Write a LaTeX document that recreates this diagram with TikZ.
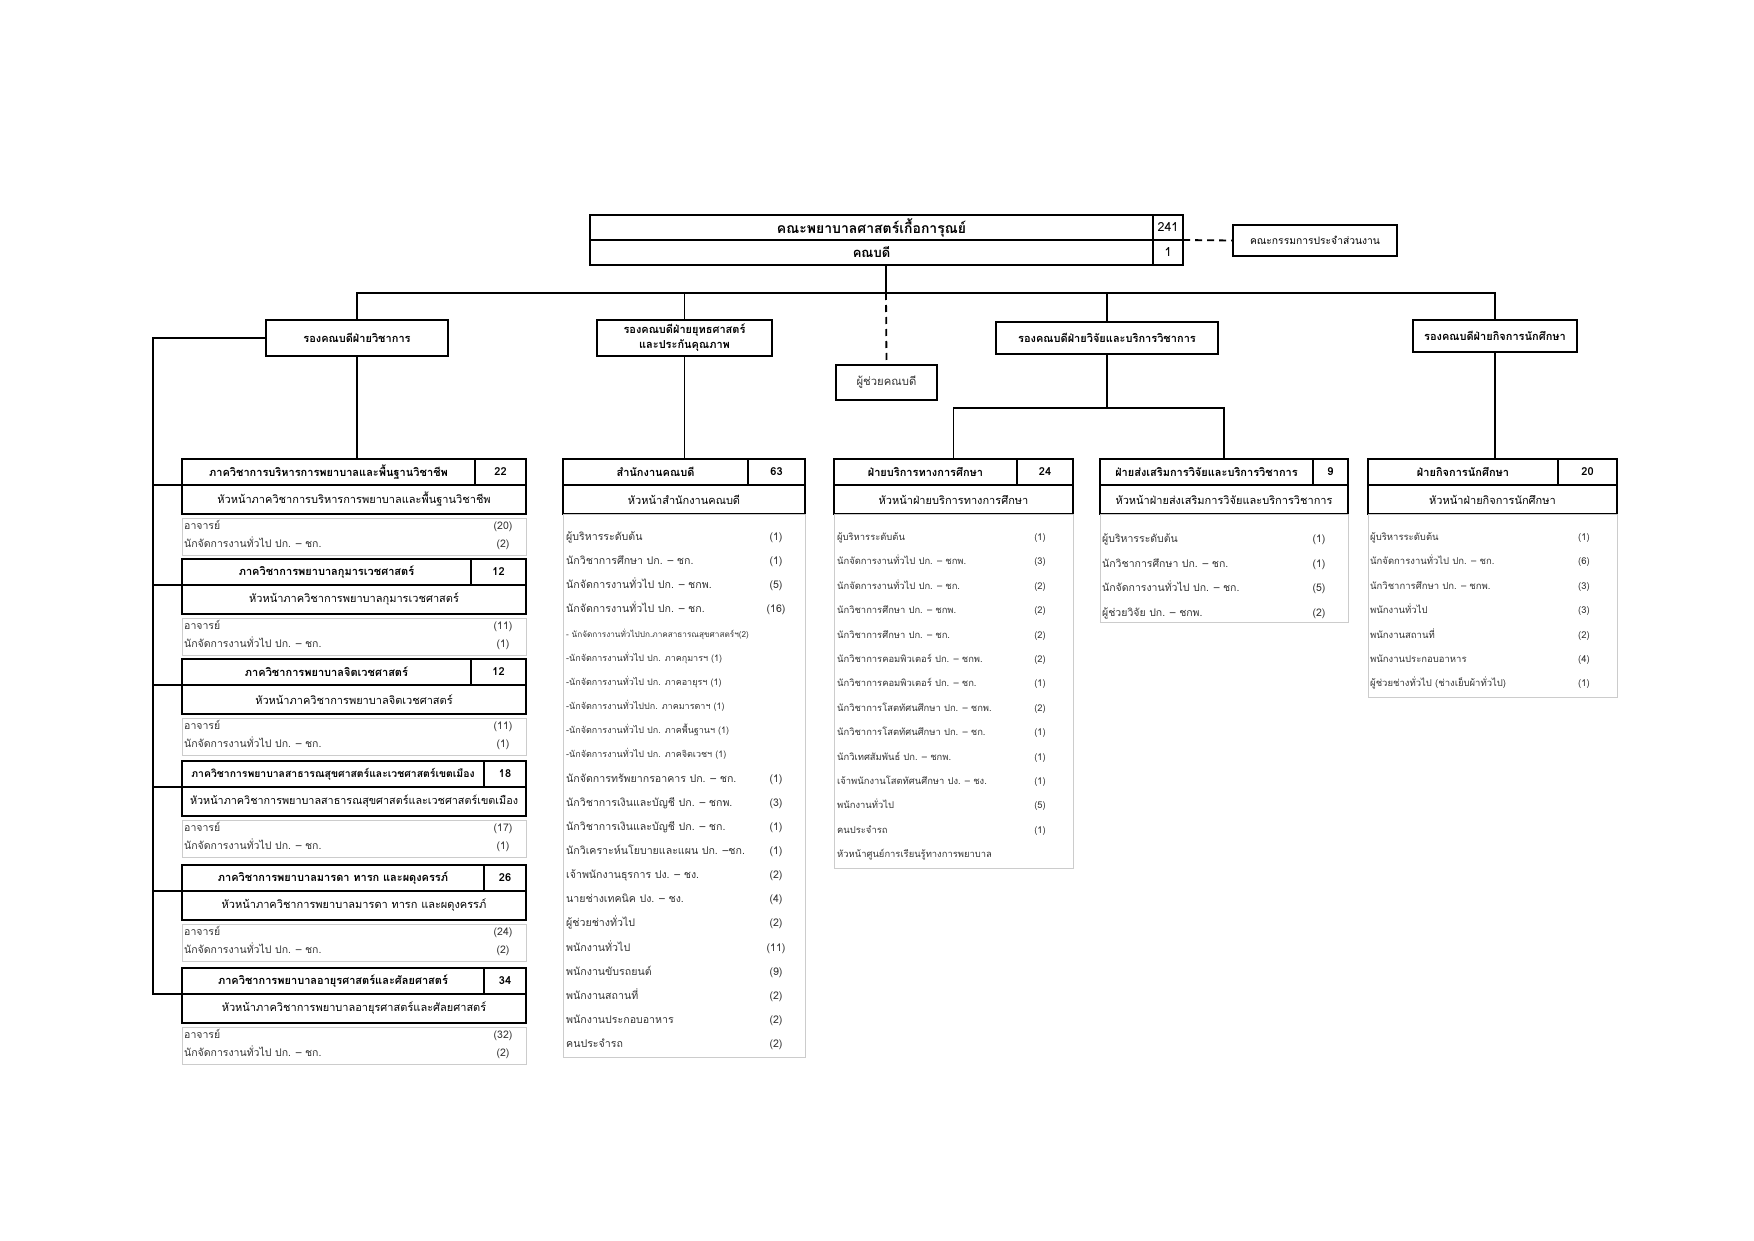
\documentclass[tikz,border=0pt]{standalone}
\usepackage{fontspec}
\setmainfont[Script=Thai]{Loma}
\usetikzlibrary{calc}
\definecolor{rule}{gray}{0.8}
\definecolor{ink}{gray}{0.2}
\tikzset{
  tp/.style={draw, line width=1.6pt, inner sep=0pt, outer sep=0pt, minimum height=25, font=\fontsize{12.5}{13}\selectfont},
  hd/.style={draw, line width=1.8pt, inner sep=0pt, outer sep=0pt, minimum height=26, font=\bfseries\fontsize{11}{12}\selectfont},
  sb/.style={draw, line width=1.8pt, inner sep=0pt, outer sep=0pt, minimum height=29, font=\fontsize{11}{12}\selectfont},
  vp/.style={draw, line width=1.6pt, inner sep=0pt, outer sep=0pt, align=center, font=\bfseries\fontsize{11}{15}\selectfont},
  lst/.style={draw=rule, line width=1pt, inner sep=0pt, outer sep=0pt, anchor=north west},
  lt/.style={inner sep=0pt, text=ink, text height=7pt, text depth=2pt, font=\fontsize{#1}{12}\selectfont},
  il/.style={lt=10.5, anchor=west},
  im/.style={lt=10.6, anchor=west},
  sa/.style={lt=8.2, anchor=west},
  sx/.style={lt=9, anchor=west},
  ie/.style={lt=9.4, anchor=west},
  ir/.style={lt=10.5, anchor=west},
  is/.style={lt=9.5, anchor=west},
  ln/.style={line width=1.8pt},
  dl/.style={line width=1.8pt, dash pattern=on 7pt off 5pt}
}
% name, left, top, divider, right, title, count, head
\newcommand{\dept}[8]{
  \node[hd, anchor=north west, minimum width={#4-#2}] (#1) at (#2,#3) {#6};
  \node[hd, anchor=north west, minimum width={#5-#4}] (#1n) at (#4,#3) {#7};
  \node[sb, anchor=north west, minimum width={#5-#2}] (#1h) at (#1.south west) {#8};
  \coordinate (#1t) at ({(#2+#5)/2},#3);
}

\begin{document}
\begin{tikzpicture}[x=1pt,y=-1pt]
  \useasboundingbox (0,0) rectangle (1754,1241);

  \node[tp, minimum width=563, font=\bfseries\fontsize{14}{15}\selectfont] (fac) at (871.5,227.5) {คณะพยาบาลศาสตร์เกื้อการุณย์};
  \node[tp, minimum width=30] (facn) at (1168,227.5) {241};
  \node[tp, minimum width=563, font=\bfseries\fontsize{13}{15}\selectfont] (dean) at (871.5,252.5) {คณบดี};
  \node[tp, minimum width=30] (deann) at (1168,252.5) {1};
  \node[vp, minimum width=164, minimum height=31, font=\fontsize{10.3}{12}\selectfont] (comm) at (1315,240.5) {คณะกรรมการประจำส่วนงาน};

  \node[vp, minimum width=182, minimum height=36] (vacad) at (357,338) {รองคณบดีฝ่ายวิชาการ};
  \node[vp, minimum width=175, minimum height=36] (vsd) at (684.5,338) {รองคณบดีฝ่ายยุทธศาสตร์\\และประกันคุณภาพ};
  \node[vp, minimum width=101, minimum height=35, font=\fontsize{11.3}{12}\selectfont, text=ink] (asst) at (886.5,382.5) {ผู้ช่วยคณบดี};
  \node[vp, minimum width=222, minimum height=32] (vres) at (1107,338) {รองคณบดีฝ่ายวิจัยและบริการวิชาการ};
  \node[vp, minimum width=164, minimum height=32] (vstu) at (1495,336) {รองคณบดีฝ่ายกิจการนักศึกษา};

  \dept{d1}{182}{459}{475}{526}{ภาควิชาการบริหารการพยาบาลและพื้นฐานวิชาชีพ}{22}{หัวหน้าภาควิชาการบริหารการพยาบาลและพื้นฐานวิชาชีพ}
  \dept{d2}{182}{559}{471}{526}{ภาควิชาการพยาบาลกุมารเวชศาสตร์}{12}{หัวหน้าภาควิชาการพยาบาลกุมารเวชศาสตร์}
  \dept{d3}{182}{659}{471}{526}{ภาควิชาการพยาบาลจิตเวชศาสตร์}{12}{หัวหน้าภาควิชาการพยาบาลจิตเวชศาสตร์}
  \dept{d4}{182}{761}{484}{526}{\fontsize{10.4}{12}\selectfont ภาควิชาการพยาบาลสาธารณสุขศาสตร์และเวชศาสตร์เขตเมือง}{18}{\fontsize{10.8}{12}\selectfont หัวหน้าภาควิชาการพยาบาลสาธารณสุขศาสตร์และเวชศาสตร์เขตเมือง}
  \dept{d5}{182}{865}{484}{526}{ภาควิชาการพยาบาลมารดา ทารก และผดุงครรภ์}{26}{หัวหน้าภาควิชาการพยาบาลมารดา ทารก และผดุงครรภ์}
  \dept{d6}{182}{968}{484}{526}{ภาควิชาการพยาบาลอายุรศาสตร์และศัลยศาสตร์}{34}{หัวหน้าภาควิชาการพยาบาลอายุรศาสตร์และศัลยศาสตร์}

  \foreach \k/\y/\a/\c in {1/459/(20)/(2), 2/559/(11)/(1), 3/659/(11)/(1), 4/761/(17)/(1), 5/865/(24)/(2), 6/968/(32)/(2)} {
    \node[lst, minimum width=344, minimum height=37] (l\k) at (182,\y+59) {};
    \node[il] (a\k) at (184,\y+68) {อาจารย์};
    \node[lt=10.5] (an\k) at (503,\y+68) {\a};
    \node[il] (b\k) at (184,\y+86) {นักจัดการงานทั่วไป ปก. – ชก.};
    \node[lt=10.5] (bn\k) at (503,\y+86) {\c};
  }

  \dept{off}{563}{459}{748}{805}{สำนักงานคณบดี}{63}{หัวหน้าสำนักงานคณบดี}
  \dept{edu}{834}{459}{1017}{1073}{ฝ่ายบริการทางการศึกษา}{24}{หัวหน้าฝ่ายบริการทางการศึกษา}
  \dept{rsc}{1100}{459}{1313}{1348}{ฝ่ายส่งเสริมการวิจัยและบริการวิชาการ}{9}{หัวหน้าฝ่ายส่งเสริมการวิจัยและบริการวิชาการ}
  \dept{stu}{1368}{459}{1558}{1617}{ฝ่ายกิจการนักศึกษา}{20}{หัวหน้าฝ่ายกิจการนักศึกษา}

  \node[lst, minimum width=242, minimum height=543] (offl) at (563,514) {};
  \node[lst, minimum width=239, minimum height=354] (edul) at (834,514) {};
  \node[lst, minimum width=248, minimum height=108] (rscl) at (1100,514) {};
  \node[lst, minimum width=249, minimum height=183] (stul) at (1368,514) {};

  \foreach \s/\t/\n [count=\i] in {im/ผู้บริหารระดับต้น/(1), im/นักวิชาการศึกษา ปก. – ชก./(1), im/นักจัดการงานทั่วไป ปก. – ชกพ./(5), im/นักจัดการงานทั่วไป ปก. – ชก./(16), sa/- นักจัดการงานทั่วไปปก.ภาคสาธารณสุขศาสตร์ฯ(2)/{}, sx/-นักจัดการงานทั่วไป ปก. ภาคกุมารฯ (1)/{}, sx/-นักจัดการงานทั่วไป ปก. ภาคอายุรฯ (1)/{}, sx/-นักจัดการงานทั่วไปปก. ภาคมารดาฯ (1)/{}, sx/-นักจัดการงานทั่วไป ปก. ภาคพื้นฐานฯ (1)/{}, sx/-นักจัดการงานทั่วไป ปก. ภาคจิตเวชฯ (1)/{}, im/นักจัดการทรัพยากรอาคาร ปก. – ชก./(1), im/นักวิชาการเงินและบัญชี ปก. – ชกพ./(3), im/นักวิชาการเงินและบัญชี ปก. – ชก./(1), im/นักวิเคราะห์นโยบายและแผน ปก. –ชก./(1), im/เจ้าพนักงานธุรการ ปง. – ชง./(2), im/นายช่างเทคนิค ปง. – ชง./(4), im/ผู้ช่วยช่างทั่วไป/(2), im/พนักงานทั่วไป/(11), im/พนักงานขับรถยนต์/(9), im/พนักงานสถานที่/(2), im/พนักงานประกอบอาหาร/(2), im/คนประจำรถ/(2)} {
    \node[\s] (o\i) at (566,{538+24.15*(\i-1)}) {\t};
    \node[lt=10.6] (on\i) at (776,{538+24.15*(\i-1)}) {\n};
  }
  \foreach \t/\n [count=\i] in {ผู้บริหารระดับต้น/(1), นักจัดการงานทั่วไป ปก. – ชกพ./(3), นักจัดการงานทั่วไป ปก. – ชก./(2), นักวิชาการศึกษา ปก. – ชกพ./(2), นักวิชาการศึกษา ปก. – ชก./(2), นักวิชาการคอมพิวเตอร์ ปก. – ชกพ./(2), นักวิชาการคอมพิวเตอร์ ปก. – ชก./(1), นักวิชาการโสตทัศนศึกษา ปก. – ชกพ./(2), นักวิชาการโสตทัศนศึกษา ปก. – ชก./(1), นักวิเทศสัมพันธ์ ปก. – ชกพ./(1), เจ้าพนักงานโสตทัศนศึกษา ปง. – ชง./(1), พนักงานทั่วไป/(5), คนประจำรถ/(1), หัวหน้าศูนย์การเรียนรู้ทางการพยาบาล/{}} {
    \node[ie] (e\i) at (837,{538+24.4*(\i-1)}) {\t};
    \node[lt=9.4] (en\i) at (1040,{538+24.4*(\i-1)}) {\n};
  }
  \foreach \t/\n [count=\i] in {ผู้บริหารระดับต้น/(1), นักวิชาการศึกษา ปก. – ชก./(1), นักจัดการงานทั่วไป ปก. – ชก./(5), ผู้ช่วยวิจัย ปก. – ชกพ./(2)} {
    \node[ir] (r\i) at (1102,{540+24.6*(\i-1)}) {\t};
    \node[lt=10.5] (rn\i) at (1319,{540+24.6*(\i-1)}) {\n};
  }
  \foreach \t/\n [count=\i] in {ผู้บริหารระดับต้น/(1), นักจัดการงานทั่วไป ปก. – ชก./(6), นักวิชาการศึกษา ปก. – ชกพ./(3), พนักงานทั่วไป/(3), พนักงานสถานที่/(2), พนักงานประกอบอาหาร/(4), ผู้ช่วยช่างทั่วไป (ช่างเย็บผ้าทั่วไป)/(1)} {
    \node[is] (s\i) at (1370,{538+24.4*(\i-1)}) {\t};
    \node[lt=9.5] (sn\i) at (1584,{538+24.4*(\i-1)}) {\n};
  }

  \coordinate (bus) at (886,293);
  \coordinate (lb) at (153,338);
  \coordinate (rj) at (1107,408);
  \draw[dl] (facn.south east) -- (comm.west);
  \draw[ln] (bus |- dean.south) -- (bus);
  \draw[dl] (bus) -- (asst.north);
  \draw[ln] (vacad.north) |- (bus) -| (vstu.north);
  \draw[ln] (vsd.north) -- (vsd.north |- bus);
  \draw[ln] (vres.north) -- (vres.north |- bus);
  \draw[ln] (vacad.south) -- (vacad.south |- d1t);
  \draw[ln] (vsd.south) -- (vsd.south |- offt);
  \draw[ln] (vres.south) -- (rj);
  \draw[ln] (edut) |- (rj) -| (rsct);
  \draw[ln] (vstu.south) -- (vstu.south |- stut);
  \draw[ln] (vacad.west) -- (lb) |- (d6.south west);
  \foreach \k in {1,...,5}
    \draw[ln] (lb |- d\k.south west) -- (d\k.south west);
\end{tikzpicture}
\end{document}
